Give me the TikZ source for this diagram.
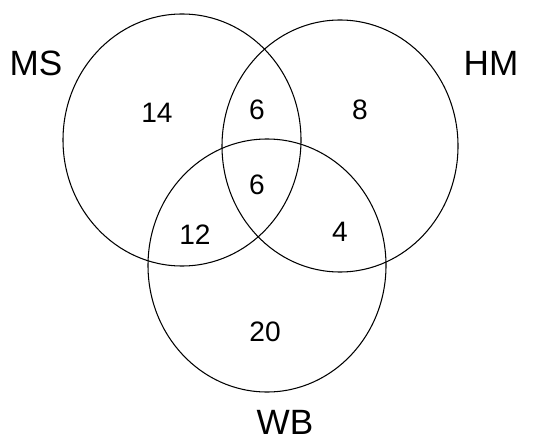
\documentclass[tikz,border=0pt]{standalone}
\usepackage{fontspec}
\setmainfont{Liberation Sans}
\usepackage{tikz}
\usetikzlibrary{positioning}

\begin{document}
\begin{tikzpicture}[
    setline/.style={draw, line width=0.6pt},
    setname/.style={font=\fontsize{20}{24}\selectfont},
    count/.style={font=\fontsize{16}{19}\selectfont}
]
\useasboundingbox (0,0) rectangle (11.12,8.8);

% Sets
\draw[setline] (3.64,6.00) ellipse [x radius=2.38cm, y radius=2.52cm];
\draw[setline] (6.80,5.88) ellipse [x radius=2.36cm, y radius=2.52cm];
\draw[setline] (5.34,3.49) ellipse [x radius=2.38cm, y radius=2.53cm];

% Set names
\node[setname] (ms) at (0.72,7.54) {MS};
\node[setname] (hm) at (9.82,7.54) {HM};
\node[setname] (wb) at (5.70,0.36) {WB};

% Counts
\node[count] (msonly) at (3.14,6.54) {14};
\node[count] (mshm) at (5.14,6.60) {6};
\node[count] (hmonly) at (7.20,6.60) {8};
\node[count] (all) at (5.14,5.10) {6};
\node[count] (mswb) at (3.90,4.10) {12};
\node[count] (hmwb) at (6.80,4.16) {4};
\node[count] (wbonly) at (5.30,2.16) {20};

\end{tikzpicture}
\end{document}
